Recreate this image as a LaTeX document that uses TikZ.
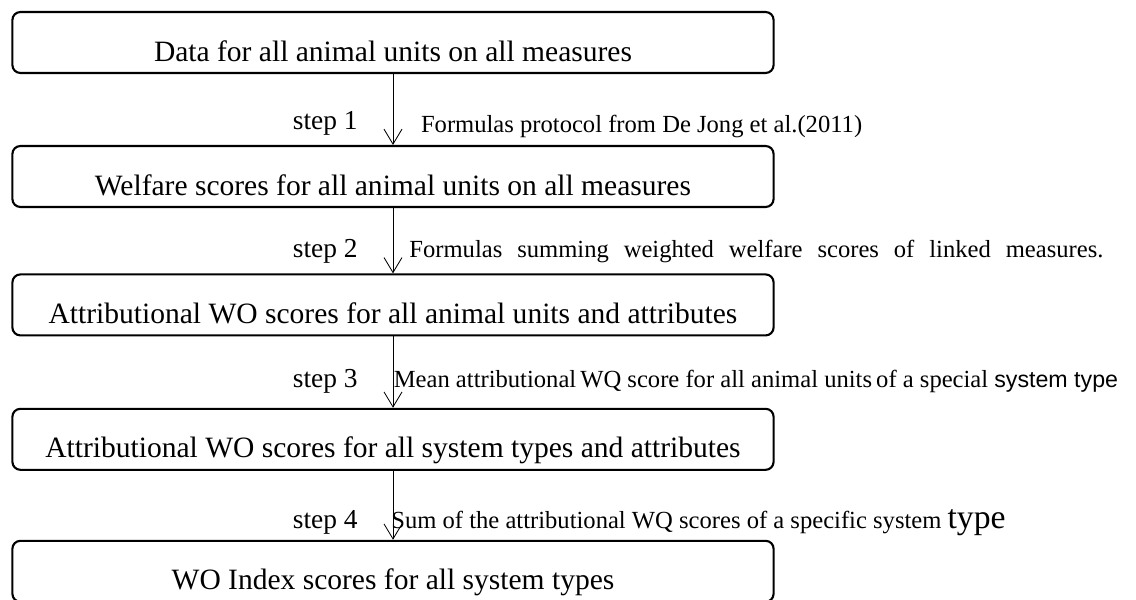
\documentclass[tikz,border=0pt]{standalone}
\usepackage{fontspec}
\setmainfont{Liberation Serif}
\newfontfamily\arialfont{Liberation Sans}
\usetikzlibrary{arrows.meta, positioning}

\begin{document}
\begin{tikzpicture}[node distance=3.3cm,
                    main box/.style={rectangle,draw,rounded corners=0.2cm,line width=1.5pt,
                      minimum width=19.03cm,minimum height=1.525cm,text height=0.93cm,text depth=0pt,
                      font=\fontsize{21}{25}\selectfont},
                    step label/.style={anchor=base east,inner sep=0pt,xshift=-0.875cm,
                      font=\fontsize{19.5}{23}\selectfont},
                    note label/.style={anchor=base west,inner sep=0pt,
                      font=\fontsize{17.5}{21}\selectfont},
                    flow/.style={->,line width=0.6pt,>={Straight Barb[length=0.375cm,width=0.45cm]}}]

 \useasboundingbox (0,0) rectangle (28.4,-14.975);

 \node[main box] (b1) at (9.825,-1.0625) {Data for all animal units on all measures};
 \node[main box] (b2) [node distance=3.35cm, below of=b1] {Welfare scores for all animal units on all measures};
 \node[main box] (b3) [node distance=3.21cm, below of=b2] {Attributional WO scores for all animal units and attributes};
 \node[main box] (b4) [node distance=3.36cm, below of=b3] {Attributional WO scores for all system types and attributes};
 \node[main box] (b5) [below of=b4] {WO Index scores for all system types};

 \path[flow]
 (b1) edge node[step label,pos=0.78] (s1) {step 1}
           node[note label,pos=0.82,xshift=0.69cm] (n1) {Formulas protocol from De Jong et al.(2011)} (b2)
 (b2) edge node[step label,pos=0.75] (s2) {step 2}
           node[note label,pos=0.75,xshift=0.4cm] (n2)
           {\makebox[17.35cm][s]{Formulas summing weighted welfare scores of linked measures.}} (b3)
 (b3) edge node[step label,pos=0.72] (s3) {step 3}
           node[note label,pos=0.72,xshift=0.01cm] (n3)
           {Mean attributional\,WQ score for all animal units\,of a special {\arialfont\fontsize{16.5}{20}\selectfont system type}} (b4)
 (b4) edge node[step label,pos=0.83] (s4) {step 4}
           node[note label,pos=0.83,xshift=-0.05cm] (n4)
           {Sum of the attributional WQ scores of a specific system {\fontsize{24}{26}\selectfont type}} (b5);

\end{tikzpicture}
\end{document}
